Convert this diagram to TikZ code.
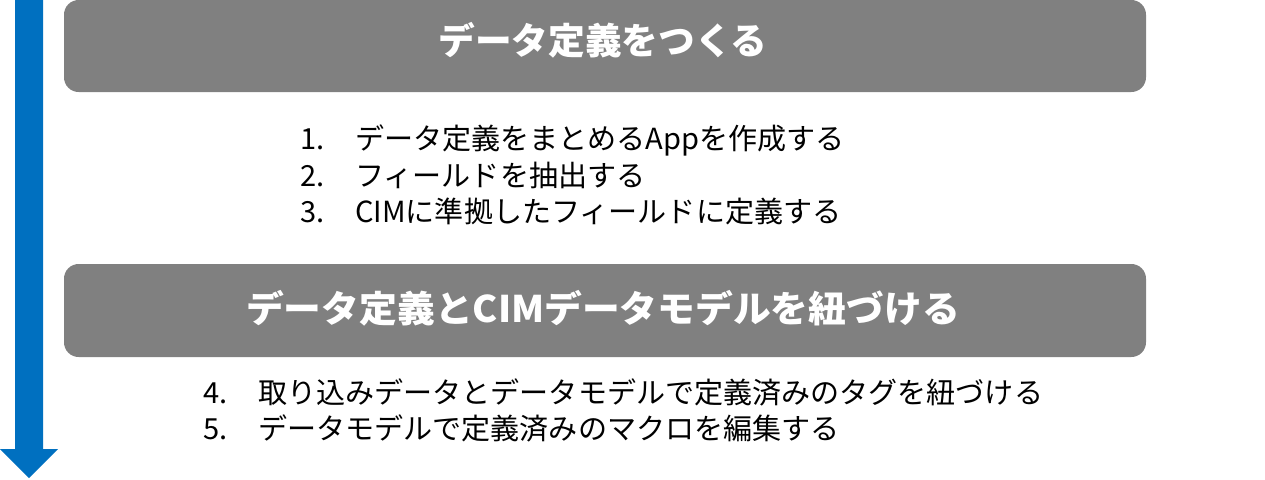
\documentclass[tikz,border=0pt]{standalone}
\usepackage{fontspec}
\newfontfamily\jp{Noto Sans CJK JP}
\definecolor{boxgray}{RGB}{128,128,128}
\definecolor{flowblue}{RGB}{0,112,192}
\tikzset{
  titlebox/.style={fill=boxgray, draw=none, rounded corners=11pt},
  titletext/.style={text=white, font=\jp\bfseries\fontsize{27.5pt}{30pt}\selectfont, inner sep=0pt, text height=0.88em, text depth=0.12em, anchor=center},
  listtext/.style={text=black, font=\jp\fontsize{21.8pt}{24pt}\selectfont, inner sep=0pt, text height=0.88em, text depth=0.12em, anchor=west},
}
\begin{document}
\begin{tikzpicture}[x=0.75pt,y=-0.75pt]
\useasboundingbox (0,0) rectangle (1265,479);
% flow arrow
\fill[flowblue] (15,0) -- (43,0) -- (43,449) -- (58,449) -- (29,478) -- (0,449) -- (15,449) -- cycle;
% boxes
\path[titlebox] (64,0) rectangle (1146,92);
\path[titlebox] (64,264) rectangle (1146,357);
\coordinate (b1) at (603,49);
\coordinate (b2) at (603,317);
\node[titletext] (t1) at (b1) {データ定義をつくる};
\node[titletext, xscale=1.03] (t2) at (b2) {データ定義とCIMデータモデルを紐づける};
% list 1
\node[listtext] (n1) at (300,144) {1.};
\node[listtext] (l1) at (355,144) {データ定義をまとめるAppを作成する};
\node[listtext] (n2) at (300,181) {2.};
\node[listtext] (l2) at (355,181) {フィールドを抽出する};
\node[listtext] (n3) at (300,217) {3.};
\node[listtext] (l3) at (355,217) {CIMに準拠したフィールドに定義する};
% list 2
\node[listtext] (n4) at (203,398) {4.};
\node[listtext] (l4) at (258,398) {取り込みデータとデータモデルで定義済みのタグを紐づける};
\node[listtext] (n5) at (203,434) {5.};
\node[listtext] (l5) at (258,434) {データモデルで定義済みのマクロを編集する};
\end{tikzpicture}
\end{document}
